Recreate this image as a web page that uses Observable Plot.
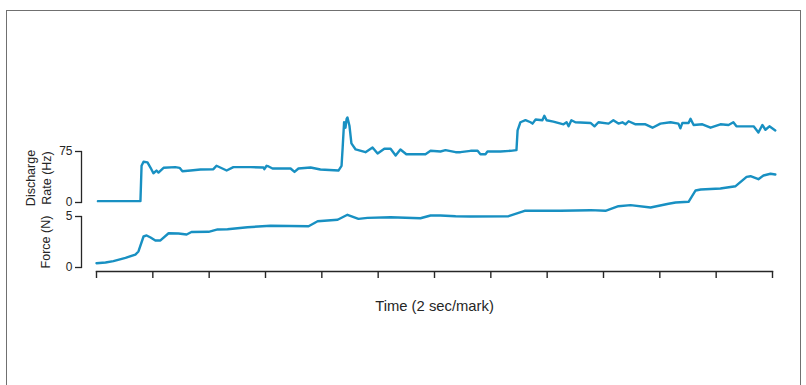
<!DOCTYPE html>
<html><head><meta charset="utf-8">
<script src="https://cdn.jsdelivr.net/npm/d3@7"></script>
<script src="https://cdn.jsdelivr.net/npm/@observablehq/plot@0.6"></script>
<style>
body{margin:0;background:#fff;}
#wrap{position:relative;width:806px;height:385px;overflow:hidden;font-family:"Liberation Sans",Arial,sans-serif;}
#wrap svg{position:absolute;left:0;top:0;}
#border{position:absolute;left:6px;top:10px;width:793px;height:420px;border:1.5px solid #707070;}
</style></head><body><div id="wrap"><div id="border"></div></div>
<script>
// Time axis (seconds; one mark = 2 s)
const timeTicks = [0,2,4,6,8,10,12,14,16,18,20,22,24];
const timeLabel = "Time (2 sec/mark)";

// Discharge rate (Hz) — [time s, rate Hz]
const dischargeTicks = [0, 75];
const dischargeLabel = "Discharge\nRate (Hz)";
const dischargeSeries = [
  [0.05,2],[1.56,2],[1.6,54],[1.67,60],[1.81,59],[1.92,51],[2.02,43],[2.13,47],[2.2,44],[2.38,51],
  [2.8,52],[2.95,51],[3.05,46],[3.34,47],[3.69,48.5],[4.15,49],[4.26,54],[4.47,50],[4.62,47],[4.86,52],
  [5.47,52],[5.93,51.5],[5.96,49],[6.04,54],[6.11,53],[6.25,50],[6.89,50],[7.03,45],[7.17,50],[7.6,51.5],
  [7.95,48.5],[8.59,47],[8.7,54],[8.74,81],[8.79,118],[8.84,110],[8.88,123],[8.91,125],[8.98,113],[9.05,87],
  [9.2,78],[9.55,74],[9.8,81],[9.98,72],[10.22,79],[10.44,79],[10.62,69],[10.79,78],[11.0,71],[11.68,71],
  [11.86,76],[12.21,75],[12.39,77],[12.75,74],[12.92,74],[13.28,76],[13.53,76],[13.63,71],[13.81,71],[13.88,75],
  [14.34,75],[14.7,76],[14.91,77],[14.95,106],[15.05,118],[15.23,121],[15.41,118],[15.48,116],[15.59,122],[15.83,121],
  [15.9,127.5],[15.98,121],[16.22,119],[16.58,115],[16.69,118],[16.76,112],[16.86,121],[17.0,118],[17.54,117],[17.68,112],
  [17.82,118],[18.18,116],[18.35,121],[18.53,116],[18.67,118],[18.78,115],[18.89,119.5],[19.14,115],[19.49,115],[19.74,110],
  [20.02,116],[20.38,118],[20.66,116],[20.73,109],[20.8,117],[21.02,117],[21.09,123],[21.2,114],[21.51,115],[21.8,110],
  [22.15,115],[22.44,114],[22.61,118],[22.72,112],[23.33,112],[23.5,103],[23.64,114],[23.75,107],[23.89,112],[24.1,106]
];

// Force (N) — [time s, force N]
const forceTicks = [0, 5];
const forceLabel = "Force (N)";
const forceSeries = [
  [0,0.42],[0.32,0.49],[0.6,0.62],[1.03,0.95],[1.38,1.27],[1.49,1.57],[1.67,3.04],[1.78,3.14],[1.92,2.94],[2.09,2.65],
  [2.27,2.65],[2.56,3.36],[2.91,3.33],[3.2,3.24],[3.37,3.48],[3.98,3.5],[4.3,3.73],[4.65,3.75],[5.36,3.95],[6.18,4.09],
  [7.53,4.05],[7.85,4.54],[8.56,4.68],[8.91,5.17],[9.3,4.77],[9.62,4.87],[10.44,4.93],[11.5,4.83],[11.86,5.1],[12.21,5.1],
  [12.75,5.03],[13.28,5.0],[14.63,5.03],[15.2,5.56],[15.76,5.56],[16.47,5.56],[17.54,5.62],[18.07,5.56],[18.53,6.01],[18.96,6.11],
  [19.67,5.88],[20.31,6.25],[20.56,6.37],[21.02,6.44],[21.27,7.55],[21.45,7.65],[22.15,7.75],[22.69,7.97],[23.08,8.89],[23.22,8.95],
  [23.5,8.66],[23.68,9.02],[23.93,9.19],[24.1,9.12]
];

const lineColor = "#1890c2";
const ink = "#262626";
const font = "Liberation Sans, Arial, sans-serif";
const common = {width: 806, height: 385, style: {background: "transparent", color: ink, fontFamily: font, overflow: "visible"}};
const xScale = {domain: [0, 24], range: [96, 772], axis: null};

const discharge = dischargeSeries.map(([t, v]) => ({t, v}));
const force = forceSeries.map(([t, v]) => ({t, v}));

const A = Plot.plot({
  ...common,
  marginLeft: 81, marginRight: 34, marginTop: 151, marginBottom: 183,
  x: xScale,
  y: {domain: [0, 75]},
  marks: [
    Plot.frame({anchor: "left", stroke: ink, strokeWidth: 1.3}),
    Plot.axisY(dischargeTicks, {anchor: "left", tickSize: 6, tickPadding: 3, fontSize: 12, label: null, strokeWidth: 1.3}),
    Plot.line(discharge, {x: "t", y: "v", stroke: lineColor, strokeWidth: 2.4, strokeLinejoin: "round"}),
    Plot.text([dischargeLabel], {text: d => d, frameAnchor: "left", rotate: -90, dx: -44, dy: 1, lineHeight: 1.3, fontSize: 12.5, textAnchor: "middle", lineAnchor: "middle", fill: ink})
  ]
});

const B = Plot.plot({
  ...common,
  marginLeft: 81, marginRight: 34, marginTop: 216, marginBottom: 118,
  x: xScale,
  y: {domain: [0, 5]},
  marks: [
    Plot.frame({anchor: "left", stroke: ink, strokeWidth: 1.3}),
    Plot.axisY(forceTicks, {anchor: "left", tickSize: 6, tickPadding: 3, fontSize: 12, label: null, strokeWidth: 1.3}),
    Plot.line(force, {x: "t", y: "v", stroke: lineColor, strokeWidth: 2.4, strokeLinejoin: "round"}),
    Plot.text([forceLabel], {text: d => d, frameAnchor: "left", rotate: -90, dx: -36, dy: 0, fontSize: 12.5, textAnchor: "middle", lineAnchor: "middle", fill: ink})
  ]
});

const C = Plot.plot({
  ...common,
  marginLeft: 96, marginRight: 34, marginTop: 271, marginBottom: 107,
  x: {domain: [0, 24], axis: null},
  marks: [
    Plot.frame({anchor: "top", stroke: ink, strokeWidth: 1.4}),
    Plot.tickX(timeTicks, {x: d => d, stroke: ink, strokeWidth: 1.4}),
    Plot.text([timeLabel], {text: d => d, frameAnchor: "bottom", dy: 32, fontSize: 14.8, fill: ink})
  ]
});

const wrap = document.getElementById("wrap");
wrap.append(A, B, C);
</script>
</body></html>
